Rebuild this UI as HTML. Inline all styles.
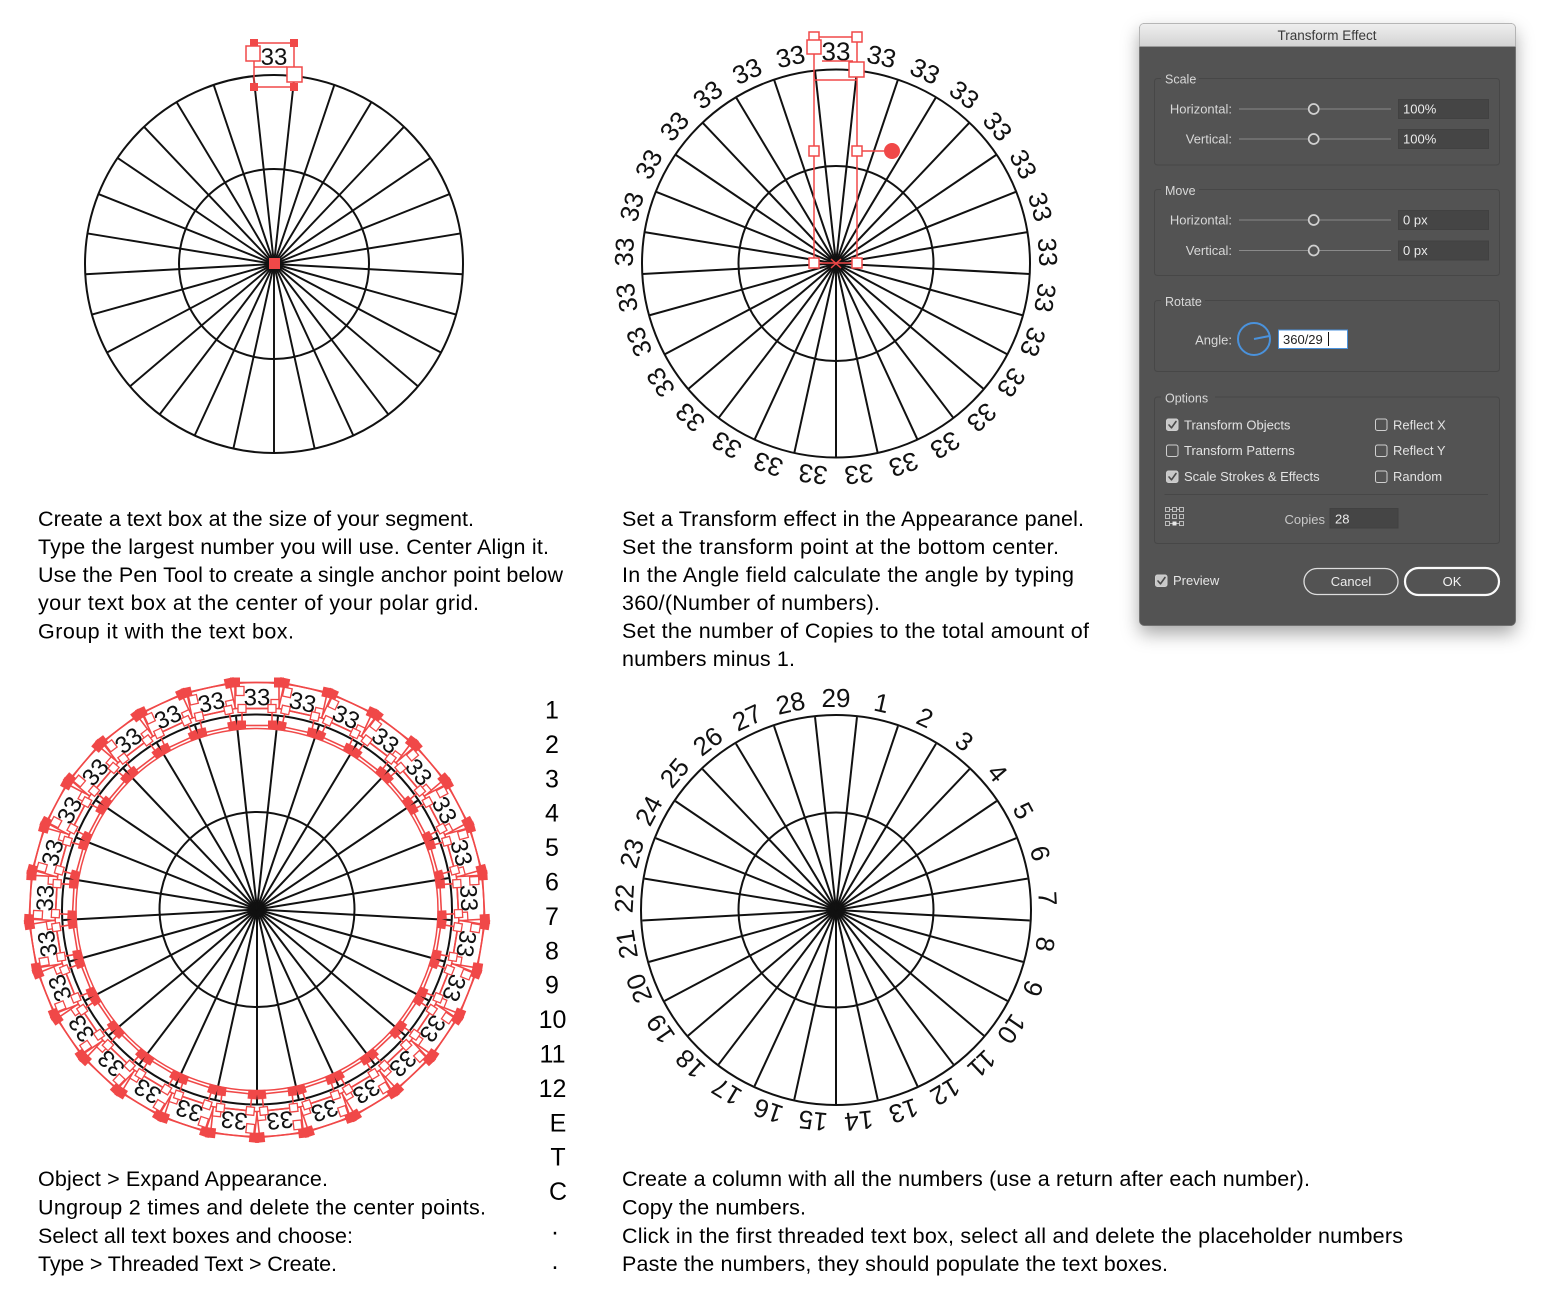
<!DOCTYPE html>
<html>
<head>
<meta charset="utf-8">
<style>
  html,body{margin:0;padding:0;background:#fff;}
  body{width:1550px;height:1291px;overflow:hidden;}
  svg{display:block;}
  .body{font-family:"Liberation Sans",sans-serif;font-size:21.5px;fill:#000;white-space:pre;}
  .dlg{font-family:"Liberation Sans",sans-serif;font-size:13px;fill:#d8d8d8;}
</style>
</head>
<body>
<svg width="1550" height="1291" viewBox="0 0 1550 1291" xmlns="http://www.w3.org/2000/svg">
<defs>
  <g id="spk" stroke="#111" stroke-width="2">
    <line x1="0" y1="0" x2="0" y2="-194" transform="rotate(6.207)"/>
    <line x1="0" y1="0" x2="0" y2="-194" transform="rotate(18.621)"/>
    <line x1="0" y1="0" x2="0" y2="-194" transform="rotate(31.034)"/>
    <line x1="0" y1="0" x2="0" y2="-194" transform="rotate(43.448)"/>
    <line x1="0" y1="0" x2="0" y2="-194" transform="rotate(55.862)"/>
    <line x1="0" y1="0" x2="0" y2="-194" transform="rotate(68.276)"/>
    <line x1="0" y1="0" x2="0" y2="-194" transform="rotate(80.690)"/>
    <line x1="0" y1="0" x2="0" y2="-194" transform="rotate(93.103)"/>
    <line x1="0" y1="0" x2="0" y2="-194" transform="rotate(105.517)"/>
    <line x1="0" y1="0" x2="0" y2="-194" transform="rotate(117.931)"/>
    <line x1="0" y1="0" x2="0" y2="-194" transform="rotate(130.345)"/>
    <line x1="0" y1="0" x2="0" y2="-194" transform="rotate(142.759)"/>
    <line x1="0" y1="0" x2="0" y2="-194" transform="rotate(155.172)"/>
    <line x1="0" y1="0" x2="0" y2="-194" transform="rotate(167.586)"/>
    <line x1="0" y1="0" x2="0" y2="-194" transform="rotate(180)"/>
    <line x1="0" y1="0" x2="0" y2="-194" transform="rotate(192.414)"/>
    <line x1="0" y1="0" x2="0" y2="-194" transform="rotate(204.828)"/>
    <line x1="0" y1="0" x2="0" y2="-194" transform="rotate(217.241)"/>
    <line x1="0" y1="0" x2="0" y2="-194" transform="rotate(229.655)"/>
    <line x1="0" y1="0" x2="0" y2="-194" transform="rotate(242.069)"/>
    <line x1="0" y1="0" x2="0" y2="-194" transform="rotate(254.483)"/>
    <line x1="0" y1="0" x2="0" y2="-194" transform="rotate(266.897)"/>
    <line x1="0" y1="0" x2="0" y2="-194" transform="rotate(279.310)"/>
    <line x1="0" y1="0" x2="0" y2="-194" transform="rotate(291.724)"/>
    <line x1="0" y1="0" x2="0" y2="-194" transform="rotate(304.138)"/>
    <line x1="0" y1="0" x2="0" y2="-194" transform="rotate(316.552)"/>
    <line x1="0" y1="0" x2="0" y2="-194" transform="rotate(328.966)"/>
    <line x1="0" y1="0" x2="0" y2="-194" transform="rotate(341.379)"/>
    <line x1="0" y1="0" x2="0" y2="-194" transform="rotate(353.793)"/>
  </g>
  <g id="rb">
    <rect x="-22" y="-227" width="44" height="26" fill="none" stroke="#f04848" stroke-width="1.6"/>
    <rect x="-15" y="-201" width="30" height="17" fill="none" stroke="#f04848" stroke-width="1.6"/>
    <rect x="-27" y="-232" width="10" height="10" fill="#f04848"/>
    <rect x="17" y="-232" width="10" height="10" fill="#f04848"/>
    <rect x="-20" y="-189" width="9" height="9" fill="#f04848"/>
    <rect x="11" y="-189" width="9" height="9" fill="#f04848"/>
    <rect x="-21" y="-223" width="8" height="9" fill="#fff" stroke="#f04848" stroke-width="1.3"/>
    <rect x="14" y="-210" width="8" height="9" fill="#fff" stroke="#f04848" stroke-width="1.3"/>
    <rect x="-19" y="-205" width="8" height="8" fill="#fff" stroke="#f04848" stroke-width="1.3"/>
    <rect x="11" y="-205" width="8" height="8" fill="#fff" stroke="#f04848" stroke-width="1.3"/>
  </g>
  <filter id="sh" x="-20%" y="-10%" width="140%" height="125%">
    <feDropShadow dx="0" dy="8" stdDeviation="9" flood-color="#000" flood-opacity="0.35"/>
  </filter>
  <linearGradient id="tg" x1="0" y1="0" x2="0" y2="1">
    <stop offset="0" stop-color="#efefef"/>
    <stop offset="1" stop-color="#d3d3d3"/>
  </linearGradient>
</defs>

<rect width="1550" height="1291" fill="#fff"/>

<!-- ===== Circle 1 ===== -->
<g transform="translate(274,264)">
  <g transform="scale(0.974)"><use href="#spk"/></g>
  <circle r="189" fill="none" stroke="#111" stroke-width="2"/>
  <circle r="95" fill="none" stroke="#111" stroke-width="2"/>
</g>
<g stroke="#f04848" stroke-width="1.5" fill="none">
  <rect x="254" y="43" width="40" height="44"/>
  <line x1="254" y1="67" x2="287" y2="67"/>
</g>
<g fill="#f04848">
  <rect x="250" y="39" width="8" height="8"/>
  <rect x="290" y="39" width="8" height="8"/>
  <rect x="250" y="83" width="8" height="8"/>
  <rect x="290" y="83" width="8" height="8"/>
  <rect x="269" y="258" width="11" height="11"/>
</g>
<rect x="246" y="46" width="14" height="15" fill="#fff" stroke="#f04848" stroke-width="1.5"/>
<rect x="287" y="67" width="15" height="15" fill="#fff" stroke="#f04848" stroke-width="1.5"/>
<text x="274" y="65" text-anchor="middle" font-family="Liberation Sans, sans-serif" font-size="24" fill="#111">33</text>

<!-- ===== Circle 2 ===== -->
<g transform="translate(836,263.5)">
  <use href="#spk"/>
  <circle r="194" fill="none" stroke="#111" stroke-width="2"/>
  <circle r="97.5" fill="none" stroke="#111" stroke-width="2"/>
  <g font-family="Liberation Sans, sans-serif" font-size="26" fill="#111" text-anchor="middle">
    <text transform="rotate(0)" y="-203">33</text>
    <text transform="rotate(12.414)" y="-203">33</text>
    <text transform="rotate(24.828)" y="-203">33</text>
    <text transform="rotate(37.241)" y="-203">33</text>
    <text transform="rotate(49.655)" y="-203">33</text>
    <text transform="rotate(62.069)" y="-203">33</text>
    <text transform="rotate(74.483)" y="-203">33</text>
    <text transform="rotate(86.897)" y="-203">33</text>
    <text transform="rotate(99.310)" y="-203">33</text>
    <text transform="rotate(111.724)" y="-203">33</text>
    <text transform="rotate(124.138)" y="-203">33</text>
    <text transform="rotate(136.552)" y="-203">33</text>
    <text transform="rotate(148.966)" y="-203">33</text>
    <text transform="rotate(161.379)" y="-203">33</text>
    <text transform="rotate(173.793)" y="-203">33</text>
    <text transform="rotate(186.207)" y="-203">33</text>
    <text transform="rotate(198.621)" y="-203">33</text>
    <text transform="rotate(211.034)" y="-203">33</text>
    <text transform="rotate(223.448)" y="-203">33</text>
    <text transform="rotate(235.862)" y="-203">33</text>
    <text transform="rotate(248.276)" y="-203">33</text>
    <text transform="rotate(260.690)" y="-203">33</text>
    <text transform="rotate(273.103)" y="-203">33</text>
    <text transform="rotate(285.517)" y="-203">33</text>
    <text transform="rotate(297.931)" y="-203">33</text>
    <text transform="rotate(310.345)" y="-203">33</text>
    <text transform="rotate(322.759)" y="-203">33</text>
    <text transform="rotate(335.172)" y="-203">33</text>
    <text transform="rotate(347.586)" y="-203">33</text>
  </g>
</g>
<g stroke="#f04848" stroke-width="1.5" fill="none">
  <rect x="814" y="37" width="43" height="226"/>
  <line x1="814" y1="80" x2="857" y2="80"/>
  <line x1="822" y1="61" x2="853" y2="61"/>
  <line x1="862" y1="151" x2="886" y2="151"/>
  <line x1="831" y1="259" x2="841" y2="268"/>
  <line x1="831" y1="268" x2="841" y2="259"/>
</g>
<g fill="#fff" stroke="#f04848" stroke-width="1.5">
  <rect x="809" y="32" width="10" height="10"/>
  <rect x="852" y="32" width="10" height="10"/>
  <rect x="807" y="40" width="14" height="14"/>
  <rect x="849" y="62" width="15" height="15"/>
  <rect x="809" y="146" width="10" height="10"/>
  <rect x="852" y="146" width="10" height="10"/>
  <rect x="809" y="258" width="10" height="10"/>
  <rect x="852" y="258" width="10" height="10"/>
</g>
<circle cx="892" cy="151" r="8" fill="#f04848"/>

<!-- ===== Circle 3 ===== -->
<g transform="translate(257,909.5)">
  <use href="#spk"/>
  <circle r="195" fill="none" stroke="#111" stroke-width="2"/>
  <circle r="97.5" fill="none" stroke="#111" stroke-width="2"/>
  <circle r="227" fill="none" stroke="#f04848" stroke-width="1.5"/>
  <circle r="181" fill="none" stroke="#f04848" stroke-width="1.5"/>
  <use href="#rb" transform="rotate(0)"/>
  <use href="#rb" transform="rotate(12.414)"/>
  <use href="#rb" transform="rotate(24.828)"/>
  <use href="#rb" transform="rotate(37.241)"/>
  <use href="#rb" transform="rotate(49.655)"/>
  <use href="#rb" transform="rotate(62.069)"/>
  <use href="#rb" transform="rotate(74.483)"/>
  <use href="#rb" transform="rotate(86.897)"/>
  <use href="#rb" transform="rotate(99.310)"/>
  <use href="#rb" transform="rotate(111.724)"/>
  <use href="#rb" transform="rotate(124.138)"/>
  <use href="#rb" transform="rotate(136.552)"/>
  <use href="#rb" transform="rotate(148.966)"/>
  <use href="#rb" transform="rotate(161.379)"/>
  <use href="#rb" transform="rotate(173.793)"/>
  <use href="#rb" transform="rotate(186.207)"/>
  <use href="#rb" transform="rotate(198.621)"/>
  <use href="#rb" transform="rotate(211.034)"/>
  <use href="#rb" transform="rotate(223.448)"/>
  <use href="#rb" transform="rotate(235.862)"/>
  <use href="#rb" transform="rotate(248.276)"/>
  <use href="#rb" transform="rotate(260.690)"/>
  <use href="#rb" transform="rotate(273.103)"/>
  <use href="#rb" transform="rotate(285.517)"/>
  <use href="#rb" transform="rotate(297.931)"/>
  <use href="#rb" transform="rotate(310.345)"/>
  <use href="#rb" transform="rotate(322.759)"/>
  <use href="#rb" transform="rotate(335.172)"/>
  <use href="#rb" transform="rotate(347.586)"/>
  <g font-family="Liberation Sans, sans-serif" font-size="24" fill="#111" text-anchor="middle">
    <text transform="rotate(0)" y="-204">33</text>
    <text transform="rotate(12.414)" y="-204">33</text>
    <text transform="rotate(24.828)" y="-204">33</text>
    <text transform="rotate(37.241)" y="-204">33</text>
    <text transform="rotate(49.655)" y="-204">33</text>
    <text transform="rotate(62.069)" y="-204">33</text>
    <text transform="rotate(74.483)" y="-204">33</text>
    <text transform="rotate(86.897)" y="-204">33</text>
    <text transform="rotate(99.310)" y="-204">33</text>
    <text transform="rotate(111.724)" y="-204">33</text>
    <text transform="rotate(124.138)" y="-204">33</text>
    <text transform="rotate(136.552)" y="-204">33</text>
    <text transform="rotate(148.966)" y="-204">33</text>
    <text transform="rotate(161.379)" y="-204">33</text>
    <text transform="rotate(173.793)" y="-204">33</text>
    <text transform="rotate(186.207)" y="-204">33</text>
    <text transform="rotate(198.621)" y="-204">33</text>
    <text transform="rotate(211.034)" y="-204">33</text>
    <text transform="rotate(223.448)" y="-204">33</text>
    <text transform="rotate(235.862)" y="-204">33</text>
    <text transform="rotate(248.276)" y="-204">33</text>
    <text transform="rotate(260.690)" y="-204">33</text>
    <text transform="rotate(273.103)" y="-204">33</text>
    <text transform="rotate(285.517)" y="-204">33</text>
    <text transform="rotate(297.931)" y="-204">33</text>
    <text transform="rotate(310.345)" y="-204">33</text>
    <text transform="rotate(322.759)" y="-204">33</text>
    <text transform="rotate(335.172)" y="-204">33</text>
    <text transform="rotate(347.586)" y="-204">33</text>
  </g>
</g>

<!-- ===== Circle 4 ===== -->
<g transform="translate(836,910)">
  <use href="#spk"/>
  <circle r="195" fill="none" stroke="#111" stroke-width="2"/>
  <circle r="97.5" fill="none" stroke="#111" stroke-width="2"/>
  <g font-family="Liberation Sans, sans-serif" font-size="26" fill="#111" text-anchor="middle">
    <text transform="rotate(0)" y="-203">29</text>
    <text transform="rotate(12.414)" y="-203">1</text>
    <text transform="rotate(24.828)" y="-203">2</text>
    <text transform="rotate(37.241)" y="-203">3</text>
    <text transform="rotate(49.655)" y="-203">4</text>
    <text transform="rotate(62.069)" y="-203">5</text>
    <text transform="rotate(74.483)" y="-203">6</text>
    <text transform="rotate(86.897)" y="-203">7</text>
    <text transform="rotate(99.310)" y="-203">8</text>
    <text transform="rotate(111.724)" y="-203">9</text>
    <text transform="rotate(124.138)" y="-203">10</text>
    <text transform="rotate(136.552)" y="-203">11</text>
    <text transform="rotate(148.966)" y="-203">12</text>
    <text transform="rotate(161.379)" y="-203">13</text>
    <text transform="rotate(173.793)" y="-203">14</text>
    <text transform="rotate(186.207)" y="-203">15</text>
    <text transform="rotate(198.621)" y="-203">16</text>
    <text transform="rotate(211.034)" y="-203">17</text>
    <text transform="rotate(223.448)" y="-203">18</text>
    <text transform="rotate(235.862)" y="-203">19</text>
    <text transform="rotate(248.276)" y="-203">20</text>
    <text transform="rotate(260.690)" y="-203">21</text>
    <text transform="rotate(273.103)" y="-203">22</text>
    <text transform="rotate(285.517)" y="-203">23</text>
    <text transform="rotate(297.931)" y="-203">24</text>
    <text transform="rotate(310.345)" y="-203">25</text>
    <text transform="rotate(322.759)" y="-203">26</text>
    <text transform="rotate(335.172)" y="-203">27</text>
    <text transform="rotate(347.586)" y="-203">28</text>
  </g>
</g>

<!-- ===== Column of numbers ===== -->
<g font-family="Liberation Sans, sans-serif" font-size="25" fill="#000" text-anchor="middle">
  <text x="552" y="718.5">1</text>
  <text x="552" y="752.9">2</text>
  <text x="552" y="787.3">3</text>
  <text x="552" y="821.7">4</text>
  <text x="552" y="856.1">5</text>
  <text x="552" y="890.5">6</text>
  <text x="552" y="924.9">7</text>
  <text x="552" y="959.3">8</text>
  <text x="552" y="993.7">9</text>
  <text x="552.5" y="1028.1">10</text>
  <text x="552.5" y="1062.5">11</text>
  <text x="552.5" y="1096.9">12</text>
  <text x="558" y="1131.3">E</text>
  <text x="558" y="1165.7">T</text>
  <text x="558" y="1200.1">C</text>
  <text x="555" y="1234.5">.</text>
  <text x="555" y="1268.9">.</text>
</g>

<!-- ===== Body text ===== -->
<g class="body">
  <text x="38" y="526" textLength="436" lengthAdjust="spacing">Create a text box at the size of your segment.</text>
  <text x="38" y="554" textLength="511" lengthAdjust="spacing">Type the largest number you will use. Center Align it.</text>
  <text x="38" y="582" textLength="525" lengthAdjust="spacing">Use the Pen Tool to create a single anchor point below</text>
  <text x="38" y="610" textLength="441" lengthAdjust="spacing">your text box  at the center of your polar grid.</text>
  <text x="38" y="638.5" textLength="256" lengthAdjust="spacing">Group it with the text box.</text>

  <text x="622" y="526" textLength="462" lengthAdjust="spacing">Set a Transform effect  in the Appearance panel.</text>
  <text x="622" y="554" textLength="437" lengthAdjust="spacing">Set the transform point at the bottom center.</text>
  <text x="622" y="582" textLength="452" lengthAdjust="spacing">In the Angle field calculate the angle by typing</text>
  <text x="622" y="610" textLength="258" lengthAdjust="spacing">360/(Number of numbers).</text>
  <text x="622" y="638" textLength="467" lengthAdjust="spacing">Set the number of Copies to the total amount of</text>
  <text x="622" y="666" textLength="173" lengthAdjust="spacing">numbers minus 1.</text>

  <text x="38" y="1186" textLength="290" lengthAdjust="spacing">Object &gt; Expand Appearance.</text>
  <text x="38" y="1214.5" textLength="448" lengthAdjust="spacing">Ungroup 2 times and delete the center points.</text>
  <text x="38" y="1243" textLength="315" lengthAdjust="spacing">Select all text boxes and choose:</text>
  <text x="38" y="1271" textLength="299" lengthAdjust="spacing">Type &gt; Threaded Text &gt; Create.</text>

  <text x="622" y="1186" textLength="688" lengthAdjust="spacing">Create a column with all the numbers (use a return after each number).</text>
  <text x="622" y="1214.5" textLength="184" lengthAdjust="spacing">Copy the numbers.</text>
  <text x="622" y="1243" textLength="781" lengthAdjust="spacing">Click in the first threaded text box, select all and delete the placeholder numbers</text>
  <text x="622" y="1271" textLength="546" lengthAdjust="spacing">Paste the numbers, they should populate the text boxes.</text>
</g>

<!-- ===== Dialog ===== -->
<rect x="1139.5" y="23.5" width="376" height="602" rx="5" fill="#535353" filter="url(#sh)"/>
<rect x="1139.5" y="23.5" width="376" height="602" rx="5" fill="#535353" stroke="#6a6a6a" stroke-width="0.8"/>
<path d="M1139.5,46.5 V28.5 Q1139.5,23.5 1144.5,23.5 H1510.5 Q1515.5,23.5 1515.5,28.5 V46.5 Z" fill="url(#tg)" stroke="#b5b5b5" stroke-width="0.8"/>
<line x1="1139.5" y1="46.5" x2="1515.5" y2="46.5" stroke="#9a9a9a" stroke-width="1"/>
<text x="1327" y="40" text-anchor="middle" font-family="Liberation Sans, sans-serif" font-size="13.5" fill="#3a3a3a">Transform Effect</text>

<g fill="none" stroke="#474747" stroke-width="1">
  <rect x="1154.5" y="78.5" width="345" height="86.5" rx="3"/>
  <rect x="1154.5" y="189.5" width="345" height="86" rx="3"/>
  <rect x="1154.5" y="300.5" width="345" height="71" rx="3"/>
  <rect x="1154.5" y="397" width="345" height="146.5" rx="3"/>
</g>
<g fill="#535353">
  <rect x="1161" y="72" width="38" height="14"/>
  <rect x="1161" y="183" width="38" height="14"/>
  <rect x="1161" y="294" width="44" height="14"/>
  <rect x="1161" y="391" width="54" height="14"/>
</g>
<g class="dlg">
  <text x="1165" y="83.5" font-size="12.5">Scale</text>
  <text x="1165" y="195" font-size="12.5">Move</text>
  <text x="1165" y="306" font-size="12.5">Rotate</text>
  <text x="1165" y="402.5" font-size="12.5">Options</text>

  <text x="1232" y="113.5" text-anchor="end">Horizontal:</text>
  <text x="1232" y="143.5" text-anchor="end">Vertical:</text>
  <text x="1232" y="224.5" text-anchor="end">Horizontal:</text>
  <text x="1232" y="255" text-anchor="end">Vertical:</text>
  <text x="1232" y="344.5" text-anchor="end">Angle:</text>
</g>
<!-- sliders -->
<g stroke="#8a8a8a" stroke-width="1">
  <line x1="1239" y1="109" x2="1391" y2="109"/>
  <line x1="1239" y1="139" x2="1391" y2="139"/>
  <line x1="1239" y1="220" x2="1391" y2="220"/>
  <line x1="1239" y1="250.5" x2="1391" y2="250.5"/>
</g>
<g fill="#535353" stroke="#d0d0d0" stroke-width="1.7">
  <circle cx="1313.7" cy="109" r="5"/>
  <circle cx="1313.7" cy="139" r="5"/>
  <circle cx="1313.7" cy="220" r="5"/>
  <circle cx="1313.7" cy="250.5" r="5"/>
</g>
<!-- inputs -->
<g fill="#454545" stroke="#414141" stroke-width="1">
  <rect x="1398.5" y="99.5" width="90" height="19"/>
  <rect x="1398.5" y="129.5" width="90" height="19"/>
  <rect x="1398.5" y="210.5" width="90" height="19"/>
  <rect x="1398.5" y="241" width="90" height="19"/>
  <rect x="1330" y="508.5" width="68" height="19.5"/>
</g>
<g class="dlg" fill="#ececec">
  <text x="1403" y="113.5" fill="#ececec">100%</text>
  <text x="1403" y="143.5" fill="#ececec">100%</text>
  <text x="1403" y="224.5" fill="#ececec">0 px</text>
  <text x="1403" y="255" fill="#ececec">0 px</text>
  <text x="1335" y="523.5" fill="#ececec">28</text>
</g>
<!-- rotate dial -->
<circle cx="1254" cy="339" r="16" fill="none" stroke="#4a92dc" stroke-width="2"/>
<line x1="1254" y1="339" x2="1269.5" y2="336" stroke="#4a92dc" stroke-width="2"/>
<rect x="1278.5" y="330" width="69" height="18.5" fill="#fff" stroke="#4a92dc" stroke-width="1"/>
<text x="1283" y="344" font-family="Liberation Sans, sans-serif" font-size="13" fill="#222">360/29</text>
<line x1="1328.5" y1="332" x2="1328.5" y2="346" stroke="#111" stroke-width="1"/>

<!-- checkboxes -->
<g stroke="#cfcfcf" stroke-width="1" fill="none">
  <rect x="1166.5" y="419" width="11.5" height="11.5" rx="2" fill="#c8c8c8"/>
  <rect x="1166.5" y="445" width="11.5" height="11.5" rx="2"/>
  <rect x="1166.5" y="471" width="11.5" height="11.5" rx="2" fill="#c8c8c8"/>
  <rect x="1375.5" y="419" width="11.5" height="11.5" rx="2"/>
  <rect x="1375.5" y="445" width="11.5" height="11.5" rx="2"/>
  <rect x="1375.5" y="471" width="11.5" height="11.5" rx="2"/>
  <rect x="1155.5" y="575" width="11.5" height="11.5" rx="2" fill="#c8c8c8"/>
</g>
<g stroke="#4a4a4a" stroke-width="1.6" fill="none" stroke-linecap="round" stroke-linejoin="round">
  <path d="M1169,425 L1171.5,427.8 L1176,421.5"/>
  <path d="M1169,477 L1171.5,479.8 L1176,473.5"/>
  <path d="M1158,581 L1160.5,583.8 L1165,577.5"/>
</g>
<g class="dlg" fill="#e2e2e2">
  <text x="1184" y="429.5" fill="#e2e2e2">Transform Objects</text>
  <text x="1184" y="455" fill="#e2e2e2">Transform Patterns</text>
  <text x="1184" y="481" fill="#e2e2e2">Scale Strokes &amp; Effects</text>
  <text x="1393" y="429.5" fill="#e2e2e2">Reflect X</text>
  <text x="1393" y="455" fill="#e2e2e2">Reflect Y</text>
  <text x="1393" y="481" fill="#e2e2e2">Random</text>
  <text x="1325" y="524" text-anchor="end" fill="#c8c8c8">Copies</text>
  <text x="1173" y="585" fill="#e6e6e6">Preview</text>
</g>
<line x1="1164.5" y1="494.5" x2="1488" y2="494.5" stroke="#474747" stroke-width="1"/>
<!-- grid icon -->
<g fill="none" stroke="#c8c8c8" stroke-width="0.9">
  <rect x="1165.5" y="507.5" width="4" height="4"/><rect x="1172.5" y="507.5" width="4" height="4"/><rect x="1179.5" y="507.5" width="4" height="4"/>
  <rect x="1165.5" y="514.5" width="4" height="4"/><rect x="1172.5" y="514.5" width="4" height="4"/><rect x="1179.5" y="514.5" width="4" height="4"/>
  <rect x="1165.5" y="521.5" width="4" height="4"/><rect x="1179.5" y="521.5" width="4" height="4"/>
  <line x1="1169.5" y1="509.5" x2="1172.5" y2="509.5"/><line x1="1176.5" y1="509.5" x2="1179.5" y2="509.5"/>
  <line x1="1169.5" y1="523.5" x2="1172.5" y2="523.5"/><line x1="1176.5" y1="523.5" x2="1179.5" y2="523.5"/>
</g>
<rect x="1172.5" y="521.5" width="4" height="4" fill="#e8e8e8"/>
<!-- buttons -->
<rect x="1304" y="568.5" width="94" height="26" rx="13" fill="none" stroke="#dedede" stroke-width="1.3"/>
<rect x="1405" y="568" width="94" height="27" rx="13.5" fill="none" stroke="#fafafa" stroke-width="2.2"/>
<text x="1351" y="586" text-anchor="middle" font-family="Liberation Sans, sans-serif" font-size="13" fill="#ececec">Cancel</text>
<text x="1452" y="586" text-anchor="middle" font-family="Liberation Sans, sans-serif" font-size="13" fill="#f4f4f4">OK</text>
</svg>
</body>
</html>
